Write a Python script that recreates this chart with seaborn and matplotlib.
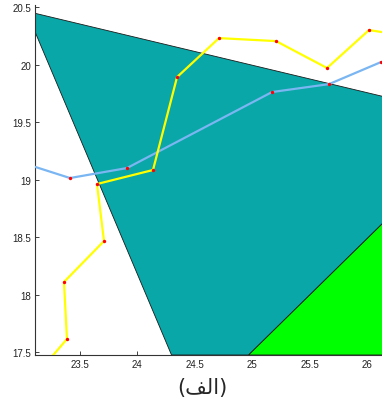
import numpy as np
import pandas as pd
import matplotlib
matplotlib.use("Agg")
import matplotlib.pyplot as plt
import seaborn as sns

# yellow path (data coords)
yellow_x = [23.183, 23.391, 23.365, 23.713, 23.652, 24.139, 24.348, 24.713, 25.209, 25.652, 26.017, 26.243]
yellow_y = [17.370, 17.613, 18.109, 18.465, 18.961, 19.083, 19.891, 20.230, 20.204, 19.970, 20.300, 20.265]

# blue path
blue_x = [22.983, 23.417, 23.913, 25.174, 25.670, 26.122]
blue_y = [19.152, 19.013, 19.100, 19.761, 19.830, 20.022]

# region boundaries
teal_x = [23.0, 26.3, 26.3, 24.97, 24.30, 23.0]
teal_y = [20.473, 19.684, 18.780, 17.474, 17.474, 20.553]
green_x = [24.97, 26.3, 26.3]
green_y = [17.474, 18.780, 17.474]

xticks = [23.5, 24, 24.5, 25, 25.5, 26]
yticks = [17.5, 18, 18.5, 19, 19.5, 20, 20.5]

sns.set_style("ticks")
plt.rcParams["font.family"] = ["Liberation Sans", "DejaVu Sans"]

fig = plt.figure(figsize=(3.82, 4.02), dpi=100)
ax = fig.add_axes([35 / 382, 46 / 402, 347 / 382, 350 / 402])

ax.fill(teal_x, teal_y, color="#09a7a7", edgecolor="#1a1a1a", linewidth=0.6, zorder=1)
ax.fill(green_x, green_y, color="#00ff00", edgecolor="#1a1a1a", linewidth=0.6, zorder=1)

blue = pd.DataFrame({"x": blue_x, "y": blue_y})
yel = pd.DataFrame({"x": yellow_x, "y": yellow_y})
sns.lineplot(data=blue, x="x", y="y", sort=False, color="#7ab6f2", linewidth=1.6, ax=ax, zorder=3)
sns.lineplot(data=yel, x="x", y="y", sort=False, color="#ffff00", linewidth=1.6, ax=ax, zorder=3)
sns.scatterplot(data=pd.concat([blue, yel]), x="x", y="y", color="red", marker="o", s=6,
                linewidth=0, ax=ax, zorder=4)

ax.set_xlim(23.113, 26.13)
ax.set_ylim(17.474, 20.518)
ax.set_xticks(xticks)
ax.set_xticklabels(["23.5", "24", "24.5", "25", "25.5", "26"])
ax.set_yticks(yticks)
ax.set_yticklabels(["17.5", "18", "18.5", "19", "19.5", "20", "20.5"])
ax.tick_params(direction="in", length=3, width=0.6, labelsize=7, colors="#222222", pad=3)
for s in ["top", "right"]:
    ax.spines[s].set_visible(False)
for s in ["left", "bottom"]:
    ax.spines[s].set_linewidth(0.8)
    ax.spines[s].set_color("#333333")

ax.set_xlabel("")
ax.set_ylabel("")
# visual (left-to-right) order of the label, contextual forms
fig.text(202 / 382, 1 - 388 / 402, "(\ufed2\ufedf\u0627)", fontsize=15,
         family=["DejaVu Sans"], ha="center", va="center")

fig.savefig("out.png", dpi=100)
